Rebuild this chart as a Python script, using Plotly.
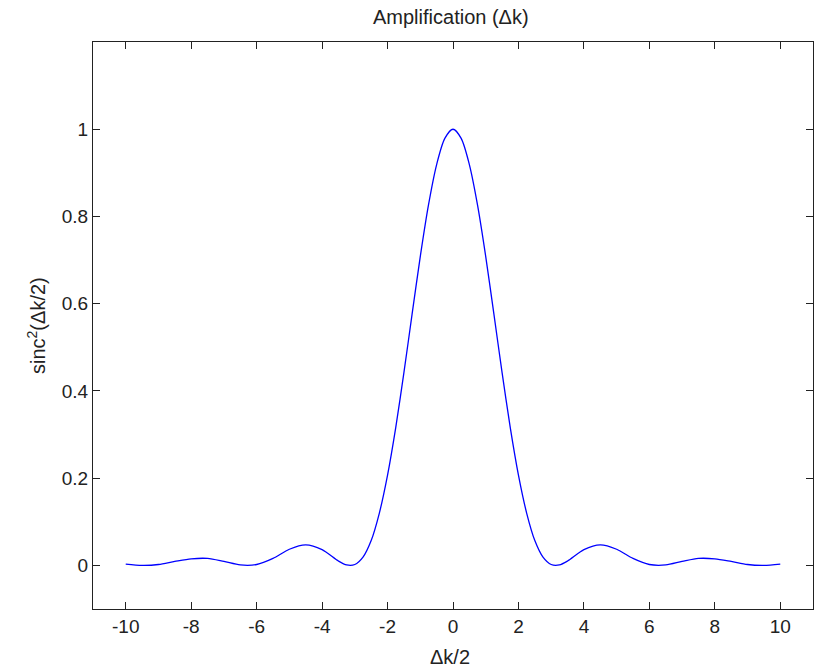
import plotly.graph_objects as go

# x positions (Δk/2) and values
x_vals = [-10.0, -9.5, -9.0, -8.5, -8.0, -7.5, -7.0, -6.5, -6.0, -5.5, -5.0,
          -4.5, -4.0, -3.5, -3.25, -3.0, -2.75, -2.5, -2.25, -2.0, -1.75, -1.5,
          -1.25, -1.0, -0.75, -0.5, -0.25, 0.0,
          0.25, 0.5, 0.75, 1.0, 1.25, 1.5, 1.75, 2.0, 2.25, 2.5, 2.75, 3.0,
          3.25, 3.5, 4.0, 4.5, 5.0,
          5.5, 6.0, 6.5, 7.0, 7.5, 8.0, 8.5, 9.0, 9.5, 10.0]
y_vals = [0.003, 0.0001, 0.002, 0.009, 0.015, 0.016, 0.009, 0.001, 0.002, 0.016, 0.037,
          0.047, 0.036, 0.010, 0.001, 0.002, 0.019, 0.057, 0.120, 0.207, 0.316, 0.442,
          0.576, 0.708, 0.826, 0.919, 0.979, 1.0,
          0.979, 0.919, 0.826, 0.708, 0.576, 0.442, 0.316, 0.207, 0.120, 0.057, 0.019, 0.002,
          0.001, 0.010, 0.036, 0.047, 0.037,
          0.016, 0.002, 0.001, 0.009, 0.016, 0.015, 0.009, 0.002, 0.0001, 0.003]

x_ticks = [-10, -8, -6, -4, -2, 0, 2, 4, 6, 8, 10]
y_ticks = [0, 0.2, 0.4, 0.6, 0.8, 1]
y_tick_labels = ["0", "0.2", "0.4", "0.6", "0.8", "1"]

font = dict(family="Liberation Sans, Arial, sans-serif", size=19, color="#222")
label_font = dict(family="Liberation Sans, Arial, sans-serif", size=20, color="#222")

fig = go.Figure()
fig.add_trace(go.Scatter(
    x=x_vals, y=y_vals, mode="lines",
    line=dict(color="#0000ff", width=1.3, shape="spline", smoothing=0.8),
    showlegend=False, hoverinfo="skip"))

axis_common = dict(
    showgrid=False, zeroline=False, showline=True, linecolor="#222", linewidth=1.3,
    ticks="inside", ticklen=7, tickwidth=1.2, tickcolor="#222", mirror="allticks",
    tickfont=font, automargin=False)

# plot area: x 93..813 px, y 42..609 px
fig.update_layout(
    width=819, height=668,
    margin=dict(l=93, r=6, t=42, b=59),
    paper_bgcolor="white", plot_bgcolor="white",
    font=font,
    xaxis=dict(range=[-11, 11], tickvals=x_ticks, ticktext=[str(v) for v in x_ticks],
               **axis_common),
    yaxis=dict(range=[-0.1, 1.2], tickvals=y_ticks, ticktext=y_tick_labels,
               **axis_common),
    annotations=[
        dict(text="Amplification (Δk)", xref="paper", yref="paper",
             x=(451 - 93) / 720, y=(609 - 17) / 567, xanchor="center", yanchor="middle",
             showarrow=False, font=label_font),
        dict(text="Δk/2", xref="paper", yref="paper",
             x=(450 - 93) / 720, y=(609 - 657) / 567, xanchor="center", yanchor="middle",
             showarrow=False, font=label_font),
        dict(text="sinc<sup>2</sup>(Δk/2)", xref="paper", yref="paper",
             x=(36 - 93) / 720, y=(609 - 326) / 567, xanchor="center", yanchor="middle",
             textangle=-90, showarrow=False, font=label_font),
    ],
)

fig.write_html("out.html",
               config={"displayModeBar": False},
               post_script="document.body.style.margin='0px';document.body.style.overflow='hidden';")
